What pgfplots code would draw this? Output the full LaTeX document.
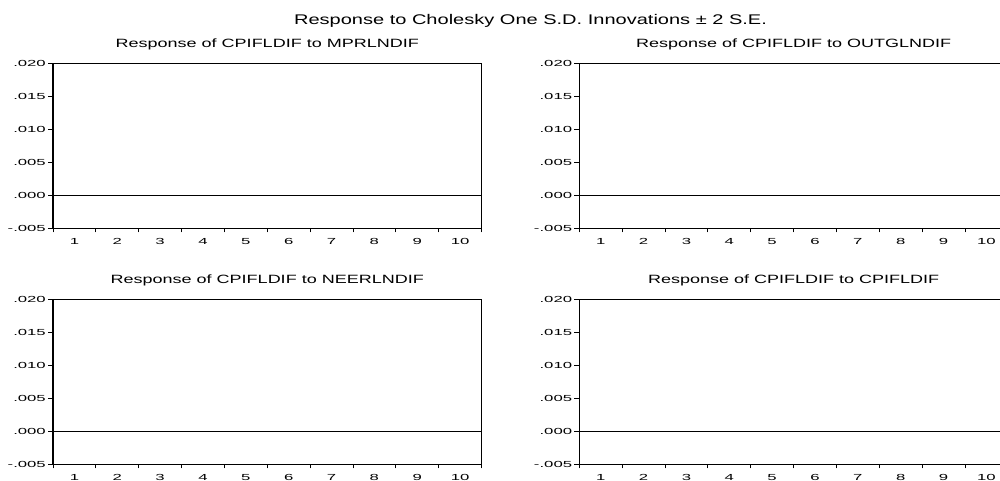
\documentclass[border=0pt]{standalone}
\usepackage{fontspec}
\usepackage{pgfplots}
\pgfplotsset{compat=1.18}
\newfontfamily\titlefont[FakeStretch=1.43]{Liberation Sans}
\newfontfamily\subfont[FakeStretch=1.5]{Liberation Sans}
\newfontfamily\tickfont[FakeStretch=1.9]{Liberation Sans}
\setmainfont{Liberation Sans}

\pgfplotsset{
  panel/.style={
    scale only axis, width=428.5pt, height=165pt,
    anchor=south west,
    xmin=0.5, xmax=10.5, ymin=-0.005, ymax=0.020,
    xtick={1,...,10}, xticklabels={1,2,3,4,5,6,7,8,9,10},
    minor xtick={0.5,1.5,...,10.5},
    ytick={-0.005,0,0.005,0.010,0.015,0.020},
    yticklabels={-.005,.000,.005,.010,.015,.020},
    scaled ticks=false,
    tick align=outside,
    xtick pos=bottom, ytick pos=left,
    major x tick style={draw=none},
    minor tick length=4pt,
    major tick length=5pt,
    minor tick style={black, line width=0.9pt},
    major tick style={black, line width=0.9pt},
    axis line style={black, line width=1.2pt},
    xticklabel style={font=\tickfont\fontsize{8.8}{10}\selectfont, anchor=base, inner sep=0pt, yshift=-11pt},
    yticklabel style={font=\tickfont\fontsize{8.8}{10}\selectfont, anchor=east, inner sep=0pt, xshift=-2pt},
    title style={font=\subfont\fontsize{12}{14}\selectfont, anchor=base, at={(0.5,1)}, yshift=10pt},
  }
}

\begin{document}
\begin{tikzpicture}[x=1pt,y=1pt]
\clip (0pt,0pt) rectangle (1000pt,481pt);
\node[anchor=base, font=\titlefont\fontsize{14}{16}\selectfont] at (530.5pt,456pt) {Response to Cholesky One S.D. Innovations ± 2 S.E.};

\begin{axis}[panel, at={(53pt,252.5pt)}, title={Response of CPIFLDIF to MPRLNDIF}]
\addplot[black, line width=0.9pt] coordinates {(0.5,0) (10.5,0)};
\end{axis}

\begin{axis}[panel, at={(579.3pt,252.5pt)}, title={Response of CPIFLDIF to OUTGLNDIF}]
\addplot[black, line width=0.9pt] coordinates {(0.5,0) (10.5,0)};
\end{axis}

\begin{axis}[panel, at={(53pt,16.7pt)}, title={Response of CPIFLDIF to NEERLNDIF}]
\addplot[black, line width=0.9pt] coordinates {(0.5,0) (10.5,0)};
\end{axis}

\begin{axis}[panel, at={(579.3pt,16.7pt)}, title={Response of CPIFLDIF to CPIFLDIF}]
\addplot[black, line width=0.9pt] coordinates {(0.5,0) (10.5,0)};
\end{axis}
\end{tikzpicture}
\end{document}
